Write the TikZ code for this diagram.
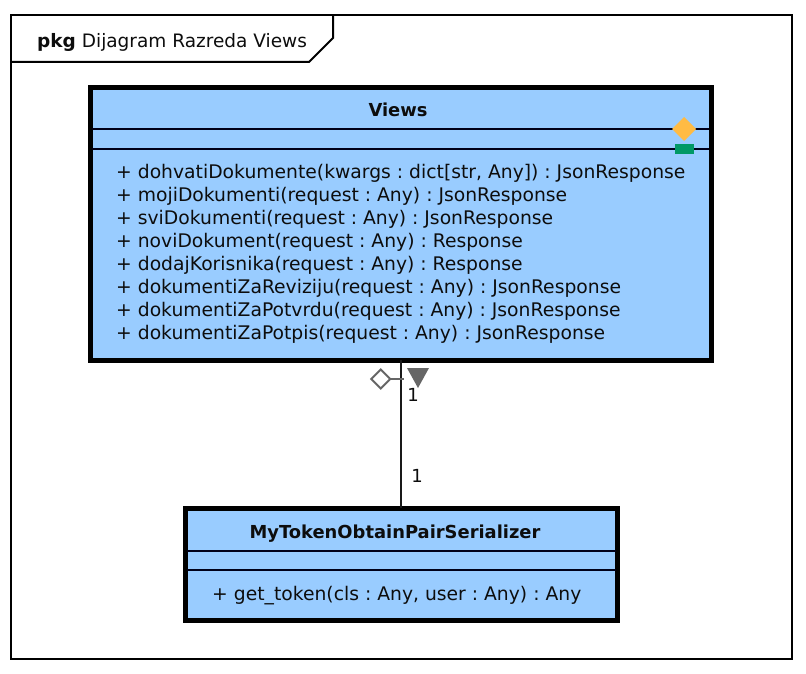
\documentclass[tikz,border=0pt]{standalone}
\usepackage{fontspec}
\usetikzlibrary{shapes.geometric}
\setmainfont{DejaVu Sans}
\frenchspacing
\definecolor{classblue}{HTML}{99CCFF}
\definecolor{markorange}{HTML}{FFBB44}
\definecolor{markgreen}{HTML}{009966}
\definecolor{markgrey}{HTML}{666666}
\tikzset{
  x=1pt,y=-1pt,
  classbox/.style={draw=black,fill=classblue,line width=5pt,outer sep=0pt,inner sep=0pt,anchor=north west},
  sep/.style={line width=2pt,draw=black!90!blue},
  label/.style={font=\fontsize{18.75}{20}\selectfont,inner sep=0pt,anchor=base west,text=black!95},
  title/.style={font=\fontsize{17.9}{20}\selectfont\bfseries,inner sep=0pt,anchor=base,text=black!95},
  mult/.style={font=\fontsize{18}{20}\selectfont,inner sep=0pt,anchor=base,text=black!95},
}
\begin{document}
\begin{tikzpicture}
\useasboundingbox (0,0) rectangle (806,674);
\fill[white] (0,0) rectangle (806,674);
% frame
\node[draw=black,line width=2pt,outer sep=0pt,inner sep=0pt,anchor=north west,minimum width=781pt,minimum height=644pt] (frame) at (11,15) {};
\coordinate (tabA) at (11,62);
\coordinate (tabB) at (309,62);
\coordinate (tabC) at (333,38);
\coordinate (tabD) at (333,15);
\draw[line width=2pt,line join=miter] (tabA) -- (tabB) -- (tabC) -- (tabD);
\node[font=\fontsize{18.5}{20}\selectfont,inner sep=0pt,anchor=base west,text=black!95] (tabtext) at (37,47.8) {\textbf{pkg} Dijagram Razreda Views};
% class boxes and connector
\node[classbox,minimum width=621pt,minimum height=272.5pt] (views) at (90.5,87.5) {};
\node[classbox,minimum width=432pt,minimum height=112pt] (ser) at (185.5,508) {};
\draw[line width=2pt,black!90] (views.south) -- (views.south |- ser.north);
% views compartments
\draw[sep] (92,129.3) -- (709,129.3);
\draw[sep] (92,149.3) -- (709,149.3);
\node[title] (vt) at (398,116.8) {Views};
\node[label] (m1) at (116,178.8) {+ dohvatiDokumente(kwargs : dict[str, Any]) : JsonResponse};
\node[label] (m2) at (116,201.8) {+ mojiDokumenti(request : Any) : JsonResponse};
\node[label] (m3) at (116,224.8) {+ sviDokumenti(request : Any) : JsonResponse};
\node[label] (m4) at (116,247.8) {+ noviDokument(request : Any) : Response};
\node[label] (m5) at (116,270.8) {+ dodajKorisnika(request : Any) : Response};
\node[label] (m6) at (116,293.8) {+ dokumentiZaReviziju(request : Any) : JsonResponse};
\node[label] (m7) at (116,316.8) {+ dokumentiZaPotvrdu(request : Any) : JsonResponse};
\node[label] (m8) at (116,339.8) {+ dokumentiZaPotpis(request : Any) : JsonResponse};
% markers on views
\node[fill=markorange,diamond,inner sep=0pt,minimum width=24pt,minimum height=24pt,outer sep=0pt] (dia) at (684,129) {};
\node[fill=markgreen,inner sep=0pt,minimum width=19pt,minimum height=10pt,outer sep=0pt] (grn) at (684.5,149) {};
% serializer compartments
\draw[sep] (187,551) -- (616,551);
\draw[sep] (187,570) -- (616,570);
\node[title] (st) at (395,538) {MyTokenObtainPairSerializer};
\node[label] (s1) at (212,600.3) {+ get\_token(cls : Any, user : Any) : Any};
% association markers
\node[draw=markgrey,fill=white,line width=2pt,diamond,inner sep=0pt,minimum width=19pt,minimum height=19pt,outer sep=0pt] (agg) at (380.7,379) {};
\coordinate (aggend) at (404,379);
\draw[line width=2pt,markgrey] (agg.east) -- (aggend);
\coordinate (t1) at (407,368);
\coordinate (t2) at (429,368);
\coordinate (t3) at (418,388);
\fill[markgrey] (t1) -- (t2) -- (t3) -- cycle;
\node[mult] (mu1) at (413,401) {1};
\node[mult] (mu2) at (417,482) {1};
\end{tikzpicture}
\end{document}
